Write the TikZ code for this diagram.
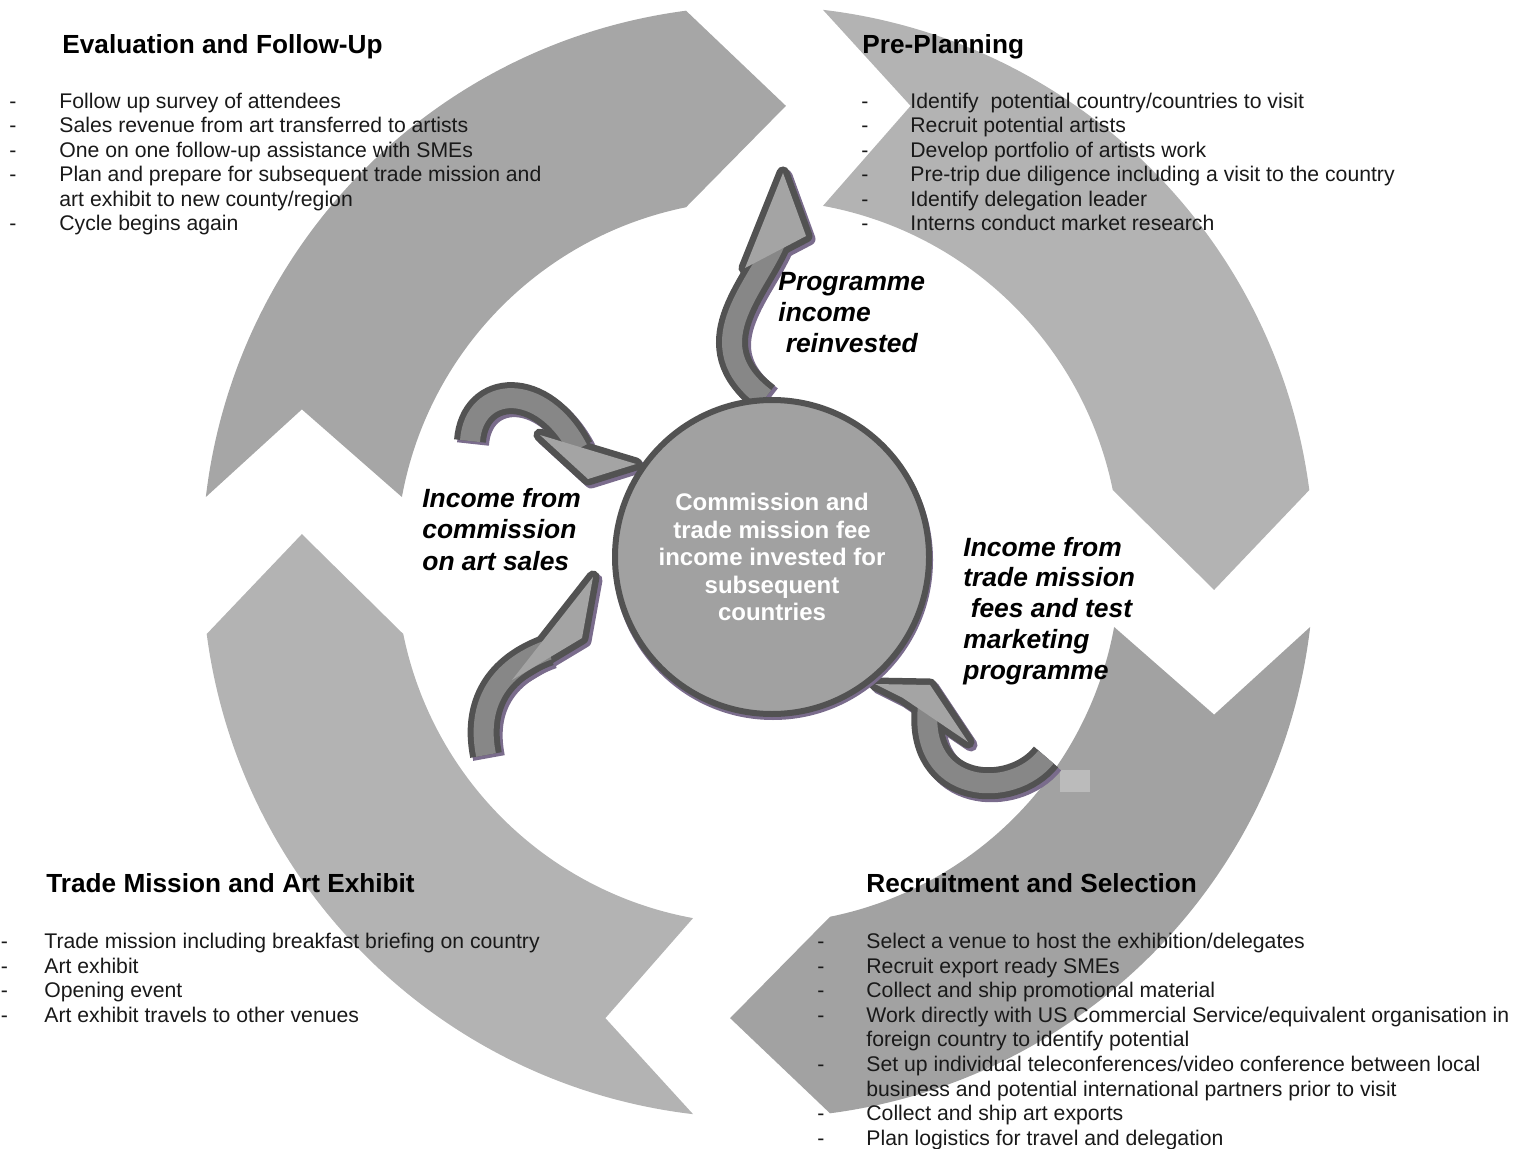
\documentclass[tikz,border=0pt]{standalone}
\usepackage{fontspec}
\setmainfont{Liberation Sans}

\definecolor{evalgray}{HTML}{A6A6A6}
\definecolor{plangray}{HTML}{B3B3B3}
\definecolor{recrgray}{HTML}{A2A2A2}
\definecolor{tradegray}{HTML}{B3B3B3}
\definecolor{hubgray}{HTML}{A1A1A1}
\definecolor{rimgray}{HTML}{525252}
\definecolor{bandgray}{HTML}{878787}
\definecolor{headgray}{HTML}{A4A4A4}
\definecolor{shadowpurple}{HTML}{7A6C8C}
\definecolor{patchgray}{HTML}{BBBBBB}

\tikzset{
  heading/.style={anchor=base west, inner sep=0pt, font=\fontsize{13.1}{15}\selectfont\bfseries},
  listline/.style={anchor=base west, inner sep=0pt, text=black!90, font=\fontsize{10.6}{12.25}\selectfont},
  flowlabel/.style={anchor=base west, inner sep=0pt, font=\fontsize{13.2}{15.75}\selectfont\bfseries\itshape},
  hub/.style={circle, draw=rimgray, line width=3pt, fill=hubgray, minimum size=157pt, inner sep=0pt,
    align=center, text=white, font=\fontsize{12}{13.75}\selectfont\bfseries},
  layshadow/.style={shift={(3,-3)},
    ribbon/.style={draw=shadowpurple, line width=16pt},
    tiphead/.style={fill=shadowpurple, draw=shadowpurple, line width=6.5pt, line join=round}},
  layrim/.style={
    ribbon/.style={draw=rimgray, line width=16pt},
    tiphead/.style={fill=rimgray, draw=rimgray, line width=6.5pt, line join=round}},
  laybody/.style={
    ribbon/.style={draw=bandgray, line width=10pt},
    tiphead/.style={fill=headgray}},
}

\begin{document}
\begin{tikzpicture}[x=0.5pt, y=0.5pt]
    \useasboundingbox (0,0) rectangle (1518,-1149);

    % ring of four chevron arcs
    \begin{scope}[shift={(758,-562)}]
        \foreach \g/\col in {180/evalgray, 90/plangray, 0/recrgray, 270/tradegray}{
            \pgfmathsetmacro{\oT}{\g-6.71}
            \pgfmathsetmacro{\iT}{\g-10.34}
            \pgfmathsetmacro{\nT}{\g-18.5}
            \pgfmathsetmacro{\oH}{\g-90+7.44}
            \pgfmathsetmacro{\iH}{\g-90+11.47}
            \pgfmathsetmacro{\tH}{\g-90-3.5}
            \fill[\col] (\oT:278pt) arc[start angle=\oT, end angle=\oH, radius=278pt]
                -- (\tH:228.5pt) -- (\iH:181pt)
                arc[start angle=\iH, end angle=\iT, radius=181pt]
                -- (\nT:240.5pt) -- cycle;
        }
    \end{scope}
    \fill[patchgray] (1060,-770) rectangle (1090,-792);

    % Evaluation and Follow-Up
    \node[heading] (evalhead) at (62,-54) {Evaluation and Follow-Up};
    \foreach \d/\txt [count=\i] in {-/{Follow up survey of attendees},
            -/{Sales revenue from art transferred to artists},
            -/{One on one follow-up assistance with SMEs},
            -/{Plan and prepare for subsequent trade mission and},
            {}/{art exhibit to new county/region},
            -/{Cycle begins again}}{
        \node[listline] (evaldash\i) at (9, {-108.5-24.5*(\i-1)}) {\d};
        \node[listline] (evalitem\i) at (59, {-108.5-24.5*(\i-1)}) {\txt};
    }

    % Pre-Planning
    \node[heading] (planhead) at (862,-54) {Pre-Planning};
    \foreach \d/\txt [count=\i] in {-/{Identify\ \ potential country/countries to visit},
            -/{Recruit potential artists},
            -/{Develop portfolio of artists work},
            -/{Pre-trip due diligence including a visit to the country},
            -/{Identify delegation leader},
            -/{Interns conduct market research}}{
        \node[listline] (plandash\i) at (861, {-108.5-24.5*(\i-1)}) {\d};
        \node[listline] (planitem\i) at (910, {-108.5-24.5*(\i-1)}) {\txt};
    }

    % Trade Mission and Art Exhibit
    \node[heading] (tradehead) at (46,-892) {Trade Mission and Art Exhibit};
    \foreach \d/\txt [count=\i] in {-/{Trade mission including breakfast briefing on country},
            -/{Art exhibit},
            -/{Opening event},
            -/{Art exhibit travels to other venues}}{
        \node[listline] (tradedash\i) at (0.5, {-948.5-24.6*(\i-1)}) {\d};
        \node[listline] (tradeitem\i) at (44, {-948.5-24.6*(\i-1)}) {\txt};
    }

    % Recruitment and Selection
    \node[heading] (recrhead) at (866,-892) {Recruitment and Selection};
    \foreach \d/\txt [count=\i] in {-/{Select a venue to host the exhibition/delegates},
            -/{Recruit export ready SMEs},
            -/{Collect and ship promotional material},
            -/{Work directly with US Commercial Service/equivalent organisation in},
            {}/{foreign country to identify potential},
            -/{Set up individual teleconferences/video conference between local},
            {}/{business and potential international partners prior to visit},
            -/{Collect and ship art exports},
            -/{Plan logistics for travel and delegation}}{
        \node[listline] (recrdash\i) at (817, {-948.5-24.6*(\i-1)}) {\d};
        \node[listline] (recritem\i) at (866, {-948.5-24.6*(\i-1)}) {\txt};
    }

    % small curved arrows round the hub
    \foreach \lay in {layshadow, layrim, laybody}{
        \begin{scope}[\lay]
            \path[ribbon] (765,-398) .. controls (695,-345) and (755,-290) .. (775,-243);
            \path[tiphead] (783,-173) -- (806,-236) -- (745,-268) -- cycle;
            \path[ribbon] (470,-441) .. controls (474,-385) and (542,-380) .. (578,-449);
            \path[tiphead] (636,-464) -- (540,-435) -- (588,-479) -- cycle;
            \path[ribbon] (486,-755) .. controls (476,-705) and (498,-668) .. (548,-650);
            \path[tiphead] (593,-577) -- (582,-638) -- (512,-680) -- cycle;
            \path[ribbon] (1046,-757) .. controls (1012,-800) and (918,-795) .. (928,-706);
            \path[tiphead] (875,-684) -- (930,-685) -- (968,-742) -- (903,-698) -- cycle;
        \end{scope}
    }

    % hub
    \fill[shadowpurple] (773,-560) circle[radius=80pt];
    \node[hub] (hub) at (772,-557) {Commission and\\trade mission fee\\income invested for\\subsequent\\countries};

    % flow labels
    \foreach \txt [count=\i] in {Programme, income, {\ reinvested}}
        \node[flowlabel] (reinvline\i) at (778, {-291-31*(\i-1)}) {\txt};
    \foreach \txt [count=\i] in {Income from, commission, on art sales}
        \node[flowlabel] (commline\i) at (422, {-507-31.5*(\i-1)}) {\txt};
    \foreach \txt [count=\i] in {Income from, trade mission, {\ fees and test}, marketing, programme}
        \node[flowlabel] (feeline\i) at (963, {-556-30.8*(\i-1)}) {\txt};
\end{tikzpicture}
\end{document}
